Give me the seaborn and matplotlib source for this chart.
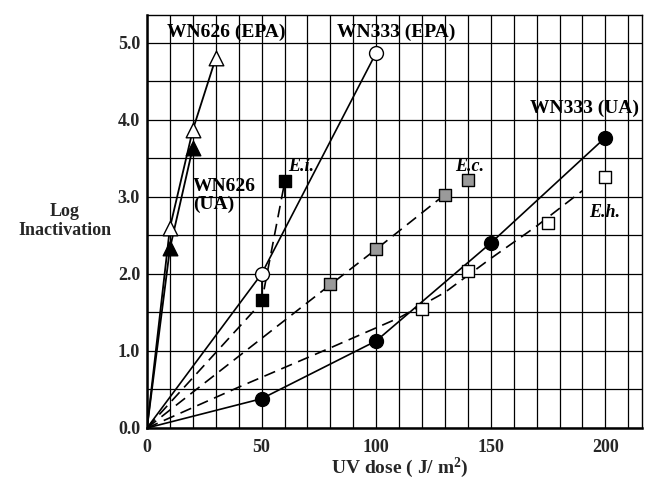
import matplotlib
matplotlib.use("Agg")
import matplotlib.pyplot as plt
import seaborn as sns
import numpy as np

# ---------------- data ----------------
# WN626 (EPA) - open triangles
wn626_epa_dose = [0, 10, 20, 30]
wn626_epa_log = [0, 2.6, 3.87, 4.8]
# WN626 (UA) - filled triangles
wn626_ua_dose = [0, 10, 20]
wn626_ua_log = [0, 2.33, 3.64]
# WN333 (EPA) - open circles
wn333_epa_dose = [0, 50, 100]
wn333_epa_log = [0, 2.0, 4.87]
# WN333 (UA) - filled circles
wn333_ua_dose = [0, 50, 100, 150, 200]
wn333_ua_log = [0, 0.38, 1.13, 2.4, 3.77]
# E.i. - black squares
ei_dose = [50, 60]
ei_log = [1.66, 3.21]
ei_err_low = [0.0, 0.22]
ei_err_high = [0.3, 0.0]
ei_fit_dose = [0, 50, 60]
ei_fit_log = [0, 1.63, 3.18]
# E.c. - grey squares
ec_dose = [80, 100, 130, 140]
ec_log = [1.87, 2.32, 3.03, 3.22]
ec_fit_dose = [0, 80, 100, 130]
ec_fit_log = [0, 1.86, 2.32, 3.03]
# E.h. - open squares
eh_dose = [120, 140, 175, 200]
eh_log = [1.55, 2.04, 2.66, 3.26]
eh_fit_dose = [0, 40, 80, 110, 130, 150, 170, 190]
eh_fit_log = [0, 0.53, 1.04, 1.43, 1.76, 2.2, 2.62, 3.08]

x_ticks = [0, 50, 100, 150, 200]
y_ticks = [0.0, 1.0, 2.0, 3.0, 4.0, 5.0]

# ---------------- style ----------------
sns.set_theme(style="white")
plt.rcParams["font.family"] = ["Liberation Serif", "DejaVu Serif"]
plt.rcParams["font.weight"] = "bold"
plt.rcParams["mathtext.fontset"] = "custom"
plt.rcParams["mathtext.rm"] = "Liberation Serif:bold"
plt.rcParams["mathtext.it"] = "Liberation Serif:bold"
plt.rcParams["mathtext.bf"] = "Liberation Serif:bold"

fig = plt.figure(figsize=(6.47, 4.82), dpi=100)
ax = fig.add_axes([147 / 647, 54 / 482, 495 / 647, 413 / 482])

lw = 1.2
dash = (7, 4)

def line(xs, ys, dashed=False, width=lw):
    sns.lineplot(x=xs, y=ys, ax=ax, color="black", linewidth=width,
                 sort=False, estimator=None, legend=False,
                 linestyle="--" if dashed else "-")
    if dashed:
        ax.lines[-1].set_dashes(dash)

def pts(xs, ys, marker, face, size):
    sns.scatterplot(x=xs, y=ys, ax=ax, marker=marker, s=size ** 2,
                    facecolor=face, edgecolor="black", linewidth=1.0,
                    zorder=5, legend=False)

# fit / connecting lines
line(wn626_epa_dose, wn626_epa_log, width=1.3)
line(wn626_ua_dose, wn626_ua_log, width=1.3)
line(wn333_epa_dose, wn333_epa_log)
line(wn333_ua_dose, wn333_ua_log)
line(ei_fit_dose, ei_fit_log, dashed=True)
line(ec_fit_dose, ec_fit_log, dashed=True)
line(eh_fit_dose, eh_fit_log, dashed=True)

# error bars for E.i.
ax.errorbar(ei_dose, ei_log, yerr=[ei_err_low, ei_err_high], fmt="none",
            ecolor="black", elinewidth=1.3, capsize=0, zorder=4)

# markers
pts(wn626_epa_dose[1:], wn626_epa_log[1:], "^", "white", 10.5)
pts(wn626_ua_dose[1:], wn626_ua_log[1:], "^", "black", 10.5)
pts(wn333_epa_dose[1:], wn333_epa_log[1:], "o", "white", 10)
pts(wn333_ua_dose[1:], wn333_ua_log[1:], "o", "black", 10)
pts(ei_dose, ei_log, "s", "black", 9)
pts(ec_dose, ec_log, "s", "#9a9a9a", 8.5)
pts(eh_dose, eh_log, "s", "white", 9)

# axes
ax.set_xlim(0, 216)
ax.set_ylim(0, 5.36)
ax.set_xticks(x_ticks)
ax.set_xticklabels([str(v) for v in x_ticks])
ax.set_yticks(y_ticks)
ax.set_yticklabels([f"{v:.1f}" for v in y_ticks])
ax.set_xticks(np.arange(10, 216, 10), minor=True)
ax.set_yticks(np.arange(0.5, 5.36, 0.5), minor=True)
ax.grid(True, which="both", color="black", linewidth=0.9)
ax.set_axisbelow(True)
ax.tick_params(axis="both", which="major", labelsize=13, length=3,
               direction="out", color="black", width=1)
ax.tick_params(axis="x", which="major", pad=5)
ax.tick_params(axis="y", which="major", pad=2)
ax.tick_params(which="minor", length=0)
for lab in ax.get_xticklabels() + ax.get_yticklabels():
    lab.set_fontweight("bold")
for side in ["left", "bottom"]:
    ax.spines[side].set_linewidth(1.8)
for side in ["top", "right"]:
    ax.spines[side].set_linewidth(1.0)
for sp in ax.spines.values():
    sp.set_color("black")
    sp.set_visible(True)
ax.set_xlabel("")
ax.set_ylabel("")

# annotations
tkw = dict(fontsize=14, fontweight="bold", color="black", va="center", ha="left")
ax.text(8.7, 5.13, "WN626 (EPA)", **tkw)
ax.text(83, 5.13, "WN333 (EPA)", **tkw)
ax.text(167, 4.15, "WN333 (UA)", **tkw)
ax.text(20, 3.02, "WN626\n(UA)", linespacing=1.05, **tkw)
ikw = dict(fontsize=13, fontweight="bold", style="italic", color="black",
           va="center", ha="left")
ax.text(61.5, 3.39, "E.i.", **ikw)
ax.text(134.5, 3.39, "E.c.", **ikw)
ax.text(193, 2.8, "E.h.", **ikw)

fig.text(65 / 647, 1 - 221 / 482, "Log\nInactivation", ha="center",
         va="center", fontsize=13, fontweight="bold", linespacing=1.15)
fig.text(400 / 647, 1 - 468 / 482, "UV dose ( J/ m$^{2}$)",
         ha="center", va="center", fontsize=14, fontweight="bold")

fig.savefig("out.png", dpi=100)
